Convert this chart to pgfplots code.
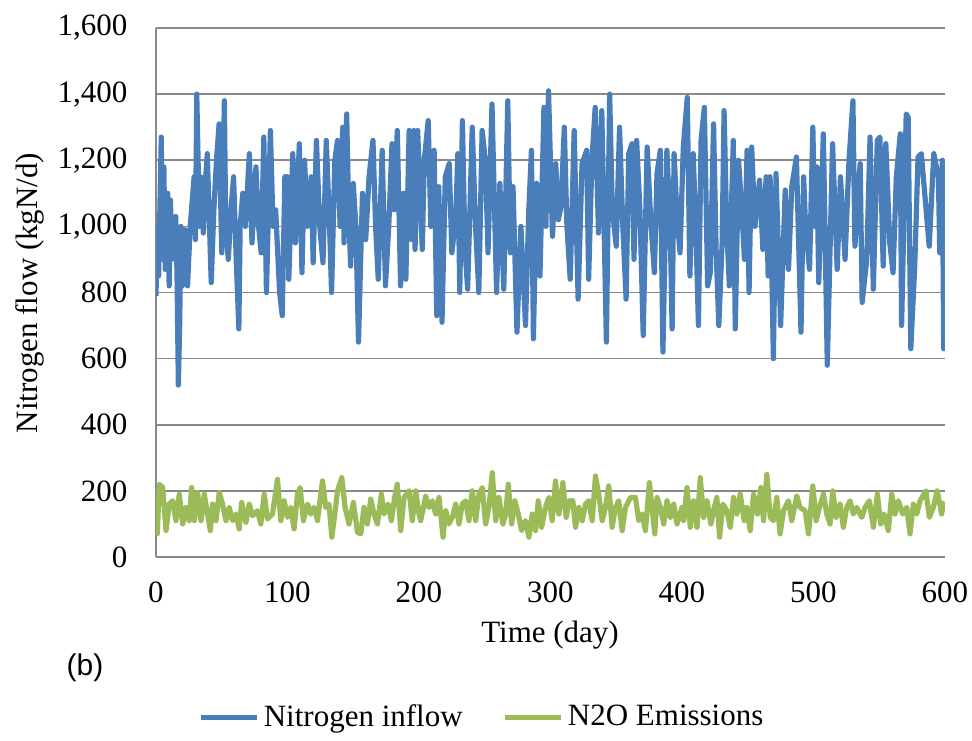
\documentclass[border=0pt]{standalone}
\usepackage{fontspec}
\setmainfont{Liberation Serif}
\newfontfamily\arialfont{Liberation Sans}
\usepackage{pgfplots}
\pgfplotsset{compat=1.18}
\definecolor{nblue}{RGB}{74,126,187}
\definecolor{ngreen}{RGB}{155,187,89}
\definecolor{gridgray}{RGB}{137,137,137}

% Nitrogen inflow (kgN/d)
\pgfplotstableread{
day val
0 790
1 1000
2 850
4 1270
5 900
6 1180
7 870
9 1100
10 820
11 1080
12 900
14 1000
15 1030
16 850
17 520
18 700
19 1000
20 820
22 990
24 820
26 1000
27 1050
29 1150
30 960
31 1400
33 1000
34 1150
36 980
37 1100
39 1220
42 830
44 1050
46 1200
48 1310
50 920
52 1380
53 1000
55 900
57 1050
59 1150
61 900
63 690
64 1000
66 1100
68 1000
71 1220
73 950
76 1180
78 1000
80 920
82 1270
84 800
87 1290
89 1000
91 1050
94 800
96 730
98 1150
100 1150
101 840
104 1220
106 950
109 1250
111 860
113 1200
115 1000
118 1150
119.5 890
122 1260
124.5 1000
127 890
129.5 1260
132 1000
133.5 800
136 1200
138 1260
140 1000
142 1300
143 950
145 1340
146.5 1050
148 880
150 1130
152 1000
154 650
157 1100
159.5 960
162 1150
165 1260
167 1000
169 840
172 1230
174.5 820
177 1000
179.5 1250
181 1050
183.5 1290
186 820
188 1100
190 840
192.5 1290
194.5 960
196 1290
197 930
199 1290
202.5 930
204 1200
207 1320
209 1000
211.5 1230
213.5 730
215 1120
217.5 710
220 1150
223 1190
225 920
228 1030
229.5 1220
231 800
233 1320
235 930
237 810
240.5 1300
243 1000
245.5 800
248 1290
250.5 1200
252.5 920
255.5 1370
259 800
261.5 1130
264.5 810
267.5 1380
269.5 920
271.5 1120
274.5 680
277.5 1000
281 700
283.5 1050
285.5 1230
287 660
289.5 1130
292 850
295 1360
296.5 1000
298.5 1410
301.5 970
304 1190
306 1020
308 1060
310.5 1300
312.5 1000
315 840
318 1290
321 780
324 1190
327.5 1230
329 840
331.5 1200
334 1360
336.5 980
339 1350
342.5 650
345 1400
347 1050
350 940
352.5 1300
355 1000
357.5 780
359.5 1220
362 1250
363.5 900
365.5 1260
368 1050
370.5 670
373.5 1240
376.5 1000
379 860
381 1160
383.5 1230
385.5 620
388.5 1230
391 1000
392.5 690
394 1220
396 1050
398.5 920
401 1240
404 1390
406 850
408.5 1220
410.5 1000
412.5 700
414.5 1260
417 1360
419.5 820
421.5 860
424 1310
426 920
428 700
430.5 950
432 1350
434 1000
436 820
439 1260
440.5 690
443 1200
445.5 1050
447.5 900
449.5 1230
451 800
453 1240
455.5 1000
459 1140
461.5 930
464 1150
465.5 850
467 1150
469.5 600
471.5 1160
475 700
478.5 1110
481 870
483.5 1120
487 1210
490.5 680
492.5 1150
494 1000
497 870
499.5 1300
501 1000
502.5 1180
504 830
507.5 1280
510.5 580
514.5 1250
518 870
520.5 1150
524 900
527 1200
530 1380
531.5 940
535.5 1190
537 770
540.5 900
543 1270
545.5 810
548.5 1260
550.5 1270
553 880
555 1250
558 950
560.5 860
563 1150
566 1280
567 700
570.5 1340
572 1330
574 630
577 880
579.5 1210
582 1220
585 1080
588 940
591.5 1220
595 1150
596 920
598 1200
599 630
600 1070
}\inflow

% N2O emissions (kgN/d)
\pgfplotstableread{
day val
0 100
1 70
2.5 220
5.1 210
7.6 80
10.1 160
12.7 170
15.2 110
17.7 190
20.3 100
22.8 150
25.3 110
27.1 210
29.1 110
31.6 195
34.2 110
36.7 190
39.2 130
41.3 80
43 160
45.6 110
48.1 195
50.6 160
53.2 110
55.7 150
58.2 110
60.8 130
63.3 85
65.1 165
68.4 105
70.9 160
73.4 125
77.2 140
79.7 100
82.3 190
84.8 115
88.6 130
92.4 235
94.9 110
97.5 170
100 120
102.5 150
105 85
107.6 190
109.6 210
112.1 110
115.2 160
117.7 130
120.3 150
122.8 110
126.6 230
129.1 150
131.6 160
133.7 60
136 130
138 200
141.3 240
143.8 150
146.8 100
150.1 165
153.2 75
155.7 70
158.2 150
160.8 100
163.3 175
165.8 130
168.4 100
171.4 190
173.4 130
176.5 160
179 110
181.5 180
183.5 220
186.1 80
188.6 180
192.4 200
194.9 110
197.5 200
200 130
201.3 110
205.1 185
207.6 150
210.2 170
212.7 130
215.2 180
218.3 60
220.3 140
222.8 100
225.3 120
227.9 160
230.4 100
232.9 160
235.5 170
238 110
240.5 200
243.1 110
245.6 190
248.1 210
250.7 100
253.2 150
255.7 255
258.3 110
260.8 180
263.8 100
265.9 130
267.9 220
270.4 100
272.9 170
275.5 130
278 80
281 110
283.6 60
286.1 130
288.6 80
290.7 170
293.2 90
296.2 150
298.8 180
301.3 110
303.8 230
306.4 130
309.4 225
311.9 120
314.5 170
317 170
319 90
321.5 150
324.1 110
326.6 160
329.1 170
331.7 110
334.2 245
336.7 190
339.3 110
341.8 150
344.3 215
346.9 90
349.4 150
351.9 170
354.5 80
357 150
360.8 180
364.6 180
367.1 110
369.7 130
372.2 80
375.2 225
377.2 150
379.3 70
381 180
383.6 150
386.1 100
388.6 170
391.2 120
393.7 160
396.2 100
400 150
401.2 110
403.8 210
406.3 90
408.8 170
411.4 90
413.9 240
416.4 120
419 170
422 100
424 140
426.5 180
428.6 60
431.1 160
434.1 140
436.7 90
439.2 180
441.7 130
444.3 190
447.3 110
449.3 150
451.9 80
454.4 190
457.4 130
460 210
462 110
464.5 250
467.1 120
469.6 110
472.1 180
474.6 70
477.2 140
481 170
483.5 110
487.3 185
489.8 150
493.6 140
496.2 70
499.5 215
502 110
504.5 150
507.6 190
510.1 130
512.6 100
514.6 200
517.2 120
520.2 160
522.7 90
525.3 150
527.8 170
530.3 130
532.9 150
536.7 120
539.2 150
542.5 170
545.5 90
548.6 190
551.1 100
553.6 130
556.9 80
559.5 190
562 130
564.5 170
567.8 130
570.9 150
573.4 70
575.9 160
578.5 130
581 170
585.5 200
588.1 120
591.1 150
594.1 200
597.4 130
598.7 160
600 165
}\emission

\begin{document}
\fontsize{15.5}{18}\selectfont
\begin{tikzpicture}
\path[use as bounding box] (-78pt,-91.5pt) rectangle (408pt,278.5pt);
\begin{axis}[
  at={(0pt,0pt)}, anchor=south west,
  scale only axis, width=394.5pt, height=264.5pt,
  xmin=0, xmax=600, ymin=0, ymax=1600,
  xtick={0,100,...,600}, ytick={0,200,...,1600},
  axis x line*=bottom, axis y line*=left,
  axis line style={draw=gridgray, line width=0.8pt, -},
  major tick length=0pt,
  ymajorgrids, grid style={draw=gridgray, line width=0.8pt},
  /pgf/number format/assume math mode=true,
  /pgf/number format/1000 sep={,},
  tick label style={font=\fontsize{15.5}{18}\selectfont},
  xticklabel style={yshift=-7pt},
  yticklabel style={xshift=-9pt},
  xlabel={Time (day)},
  ylabel={Nitrogen flow (kgN/d)},
  xlabel style={at={(axis description cs:0.4994,-0.1475)}, anchor=center, font=\fontsize{15.5}{18}\selectfont},
  ylabel style={at={(axis description cs:-0.1597,0.499)}, anchor=center, rotate=0, font=\fontsize{15.5}{18}\selectfont},
  legend columns=2,
  legend style={at={(axis description cs:0.4145,-0.304)}, anchor=center, draw=none, fill=none,
    font=\fontsize{15.5}{18}\selectfont, inner xsep=0pt,
    /tikz/every even column/.append style={column sep=18pt}},
  legend image code/.code={\draw[#1] (0pt,0pt) -- (28pt,0pt);},
  clip mode=individual,
]
\addplot[color=nblue, line width=2.6pt, line join=round] table[x=day, y=val] {\inflow};
\addplot[color=ngreen, line width=2.6pt, line join=round] table[x=day, y=val] {\emission};
\legend{Nitrogen inflow, N2O Emissions}
\node[anchor=center, font=\arialfont\fontsize{15}{18}\selectfont] at (rel axis cs:-0.09,-0.21) {(b)};
\end{axis}
\end{tikzpicture}
\end{document}
